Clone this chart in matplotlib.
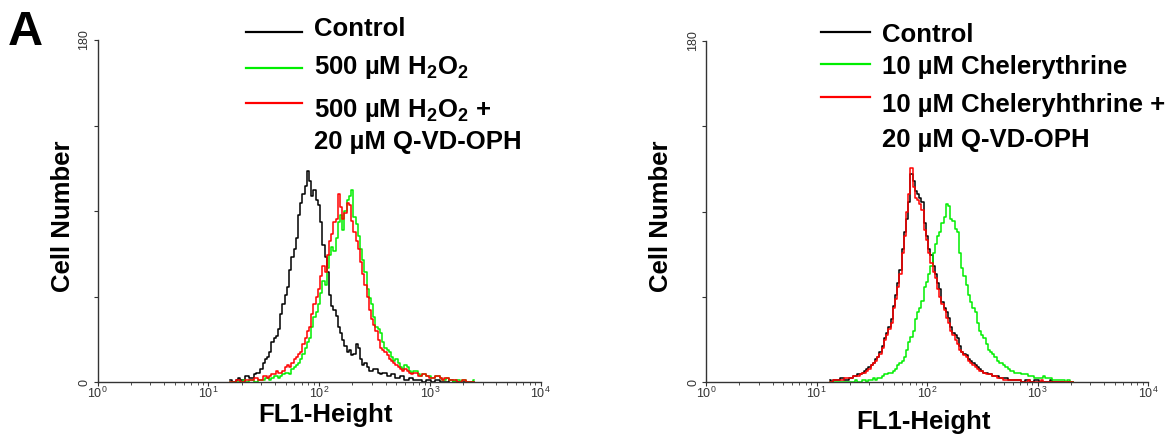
import numpy as np
import matplotlib
matplotlib.use("Agg")
import matplotlib.pyplot as plt
from matplotlib.lines import Line2D
from matplotlib.ticker import FixedLocator, LogLocator, NullFormatter

plt.rcParams['font.family'] = ['Liberation Sans', 'DejaVu Sans']
plt.rcParams['mathtext.fontset'] = 'custom'
plt.rcParams['mathtext.rm'] = 'Liberation Sans'
plt.rcParams['mathtext.bf'] = 'Liberation Sans:bold'
plt.rcParams['mathtext.default'] = 'bf'

# histogram counts, one value per 0.02 decade of FL1
step = 0.02
left_start = 1.20
left_control = [1, 0, 0, 1, 2, 1, 1, 3, 3, 2,
                2, 4, 5, 5, 7, 10, 12, 13, 16, 21,
                23, 24, 28, 36, 41, 46, 50, 59, 66, 70,
                76, 88, 94, 99, 103, 111, 106, 98, 101, 96,
                93, 84, 72, 66, 58, 46, 40, 38, 35, 29,
                26, 22, 19, 16, 17, 14, 15, 20, 18, 12,
                9, 10, 8, 6, 6, 7, 7, 5, 4, 5,
                5, 3, 3, 4, 4, 2, 2, 3, 3, 1,
                1, 2, 2, 1, 1, 1, 1, 0, 0, 1,
                1, 0, 0, 1, 1, 0, 0, 0, 0, 1,
                1, 0, 0, 0, 0, 0, 0, 0, 0, 0, 0]
left_h2o2 = [0, 0, 0, 0, 0, 0, 1, 0, 0, 1,
             1, 0, 0, 1, 1, 1, 2, 2, 1, 2,
             3, 3, 2, 3, 4, 5, 5, 4, 7, 8,
             9, 10, 12, 15, 18, 21, 23, 29, 34, 37,
             41, 47, 53, 51, 60, 67, 71, 69, 76, 84,
             88, 80, 90, 96, 98, 101, 87, 83, 77, 70,
             64, 58, 49, 44, 41, 34, 29, 28, 26, 21,
             18, 17, 16, 13, 11, 12, 10, 8, 7, 9,
             8, 6, 5, 6, 6, 4, 3, 4, 4, 3,
             3, 2, 2, 3, 3, 2, 1, 1, 2, 1,
             1, 0, 1, 1, 0, 1, 1, 0, 0, 0, 1]
left_h2o2_qvd = [0, 0, 0, 1, 1, 0, 0, 1, 1, 1,
                 1, 2, 2, 1, 1, 3, 3, 2, 3, 4,
                 4, 6, 5, 5, 6, 8, 9, 8, 10, 12,
                 13, 15, 16, 20, 23, 27, 29, 36, 41, 45,
                 49, 56, 61, 58, 67, 74, 78, 84, 86, 99,
                 92, 86, 89, 94, 93, 85, 79, 74, 70, 63,
                 57, 51, 45, 38, 33, 30, 27, 22, 18, 17,
                 16, 14, 12, 11, 10, 9, 8, 7, 6, 7,
                 6, 5, 4, 5, 5, 3, 3, 4, 4, 3,
                 2, 2, 2, 3, 3, 2, 1, 2, 2, 1,
                 1, 1, 1, 0, 0, 1, 1, 0, 0, 0, 0]

right_start = 1.12
right_control = [1, 0, 1, 1, 1, 2, 2, 1, 1, 2,
                 2, 3, 3, 4, 4, 5, 6, 7, 8, 9,
                 10, 12, 13, 16, 19, 23, 26, 29, 33, 40,
                 46, 52, 59, 70, 79, 86, 95, 110, 106, 101,
                 99, 97, 95, 84, 77, 70, 67, 61, 57, 52,
                 49, 42, 39, 37, 34, 29, 26, 25, 23, 19,
                 16, 15, 14, 12, 11, 10, 9, 8, 7, 6,
                 5, 5, 4, 4, 3, 3, 3, 2, 2, 2,
                 2, 1, 1, 1, 1, 1, 1, 0, 0, 1,
                 1, 0, 0, 1, 1, 0, 0, 0, 0, 0,
                 1, 0, 0, 0, 0, 0, 0, 0, 0, 0, 0]
right_chel = [0, 0, 0, 0, 0, 0, 0, 0, 0, 0,
              0, 0, 1, 0, 0, 1, 1, 0, 1, 1,
              2, 1, 2, 2, 3, 4, 4, 5, 5, 6,
              7, 9, 10, 11, 13, 17, 21, 24, 27, 33,
              37, 39, 43, 50, 53, 57, 61, 68, 73, 77,
              79, 84, 87, 94, 93, 86, 85, 81, 79, 68,
              60, 56, 51, 46, 42, 39, 37, 31, 27, 25,
              23, 20, 17, 16, 15, 13, 11, 10, 10, 9,
              8, 7, 6, 6, 5, 5, 5, 4, 4, 4,
              3, 3, 3, 2, 2, 2, 2, 3, 2, 2,
              2, 1, 1, 1, 1, 1, 1, 0, 1, 0, 0]
right_chel_qvd = [0, 0, 1, 1, 1, 1, 1, 2, 2, 2,
                  2, 3, 3, 3, 4, 5, 5, 6, 7, 9,
                  10, 11, 13, 15, 18, 22, 25, 28, 31, 39,
                  44, 50, 57, 68, 77, 90, 99, 113, 103, 97,
                  96, 94, 91, 80, 75, 68, 63, 58, 55, 49,
                  45, 41, 38, 34, 31, 27, 25, 22, 20, 17,
                  16, 14, 13, 11, 10, 9, 8, 7, 6, 6,
                  5, 4, 4, 4, 3, 3, 2, 2, 2, 1,
                  1, 1, 1, 1, 1, 1, 1, 0, 0, 0,
                  1, 0, 0, 0, 0, 0, 1, 0, 0, 0,
                  0, 0, 0, 0, 0, 0, 0, 0, 0, 0, 0]

left_labels = ['Control', r'500 µM H$_2$O$_2$', [r'500 µM H$_2$O$_2$ +', '20 µM Q-VD-OPH']]
right_labels = ['Control', '10 µM Chelerythrine', ['10 µM Cheleryhthrine +', '20 µM Q-VD-OPH']]
colors = ['black', '#00ee00', '#ff0000']

W, H = 1175, 443
fig = plt.figure(figsize=(W / 100, H / 100), dpi=100)


def fx(px):
    return px / W


def fy(py):
    return 1 - py / H


def make_axes(x0, x1, y0, y1):
    ax = fig.add_axes([fx(x0), fy(y1), fx(x1 - x0), (y1 - y0) / H])
    ax.set_xscale('log')
    ax.set_xlim(1, 1e4)
    ax.set_ylim(0, 180)
    for s in ['top', 'right']:
        ax.spines[s].set_visible(False)
    for s in ['left', 'bottom']:
        ax.spines[s].set_linewidth(1.0)
        ax.spines[s].set_color('#333333')
    ax.xaxis.set_major_locator(FixedLocator([1, 10, 100, 1000, 10000]))
    ax.set_xticklabels([r'$\mathregular{10^{%d}}$' % i for i in range(5)], fontsize=9)
    ax.xaxis.set_minor_locator(LogLocator(base=10, subs=np.arange(2, 10)))
    ax.xaxis.set_minor_formatter(NullFormatter())
    ax.set_yticks([0, 45, 90, 135, 180])
    ax.set_yticklabels(['0', '', '', '', '180'], rotation=90, va='center', fontsize=9)
    ax.tick_params(axis='x', which='major', length=3, width=0.8, pad=0, colors='#333333')
    ax.tick_params(axis='x', which='minor', length=2, width=0.6, colors='#333333')
    ax.tick_params(axis='y', length=3, width=0.8, pad=2, colors='#333333')
    ax.patch.set_alpha(0)
    return ax


def draw_hist(ax, start, counts, color):
    fl1 = 10 ** (start + step * np.arange(len(counts)))
    ax.step(fl1, counts, where='mid', color=color, lw=1.1)


def legend(x0, x1, ys, tx, baselines, labels):
    for y, c in zip(ys, colors):
        fig.add_artist(Line2D([fx(x0), fx(x1)], [fy(y), fy(y)], color=c, lw=1.6))
    texts = [labels[0], labels[1], labels[2][0], labels[2][1]]
    for b, t in zip(baselines, texts):
        fig.text(fx(tx), fy(b), t, fontsize=18.5, fontweight='bold', va='baseline', ha='left')


ax1 = make_axes(97.5, 540.5, 40, 382)
for counts, c in zip([left_control, left_h2o2, left_h2o2_qvd], colors):
    draw_hist(ax1, left_start, counts, c)

ax2 = make_axes(706, 1148, 41, 382)
for counts, c in zip([right_control, right_chel, right_chel_qvd], colors):
    draw_hist(ax2, right_start, counts, c)

# axis titles
fig.text(fx(63), fy(216), 'Cell Number', rotation=90, fontsize=18.5, fontweight='bold', ha='center', va='center')
fig.text(fx(661), fy(216), 'Cell Number', rotation=90, fontsize=18.5, fontweight='bold', ha='center', va='center')
fig.text(fx(326), fy(422), 'FL1-Height', fontsize=18.5, fontweight='bold', ha='center', va='baseline')
fig.text(fx(923), fy(429), 'FL1-Height', fontsize=18.5, fontweight='bold', ha='center', va='baseline')

legend(246, 302, [32, 68, 103], 314, [36, 74, 117, 149], left_labels)
legend(821, 870, [32, 64, 97], 882, [42, 74, 112, 147], right_labels)

fig.text(fx(8), fy(45), 'A', fontsize=35, fontweight='bold', ha='left', va='baseline')

fig.savefig('out.png', dpi=100)
